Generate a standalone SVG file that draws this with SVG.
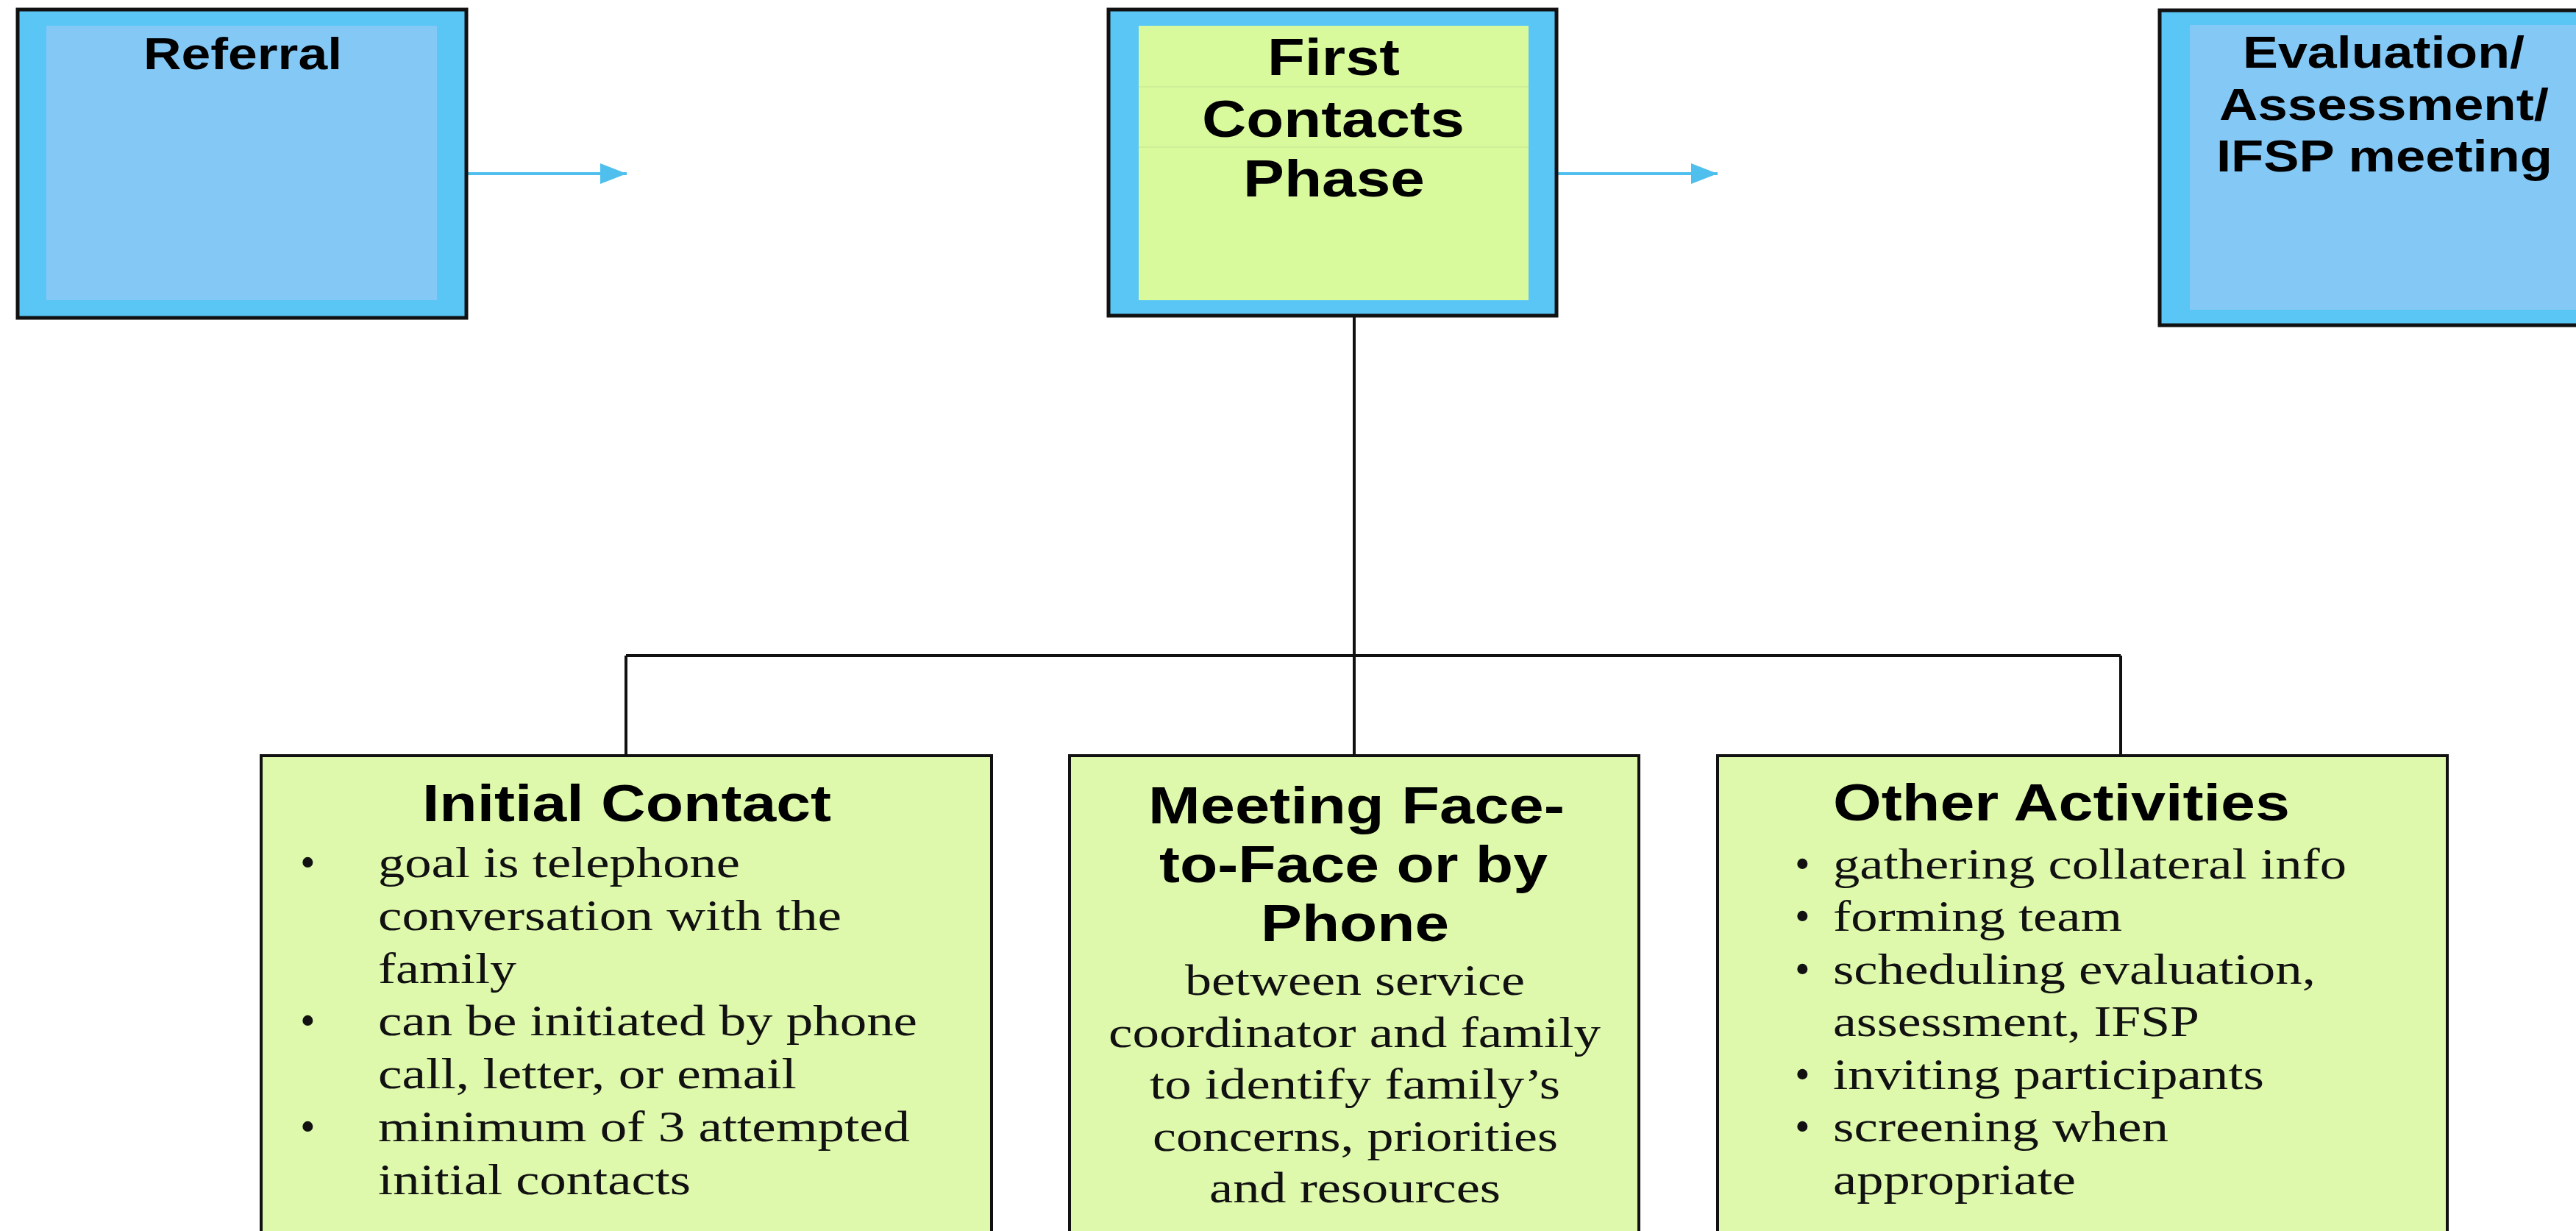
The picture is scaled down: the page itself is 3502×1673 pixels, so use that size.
<svg xmlns="http://www.w3.org/2000/svg" width="3502" height="1673" viewBox="0 0 3502 1673">
<defs>
<style>
.outer{fill:#59c6f6;stroke:#111;stroke-width:5}
.innerb{fill:#84c8f6}
.innerg{fill:#d9f99d}
.card{fill:#def8ac;stroke:#111;stroke-width:4}
.h{font-family:"Liberation Sans",Arial,sans-serif;font-weight:bold;fill:#000}
.t{font-family:"Liberation Serif","Times New Roman",serif;fill:#111;font-size:59px}
.conn{stroke:#111;stroke-width:4;fill:none}
.arr{stroke:#4fbfee;stroke-width:4;fill:none}
</style>
<marker id="ah" markerUnits="userSpaceOnUse" markerWidth="38" markerHeight="28" refX="36" refY="14" orient="auto">
<path d="M0,0 L36,14 L0,28 Z" fill="#4fbfee"/>
</marker>
</defs>
<rect width="3502" height="1673" fill="#ffffff"/>

<g id="connectors">
<line class="arr" x1="634" y1="236" x2="852" y2="236" marker-end="url(#ah)"/>
<line class="arr" x1="2116" y1="236" x2="2335" y2="236" marker-end="url(#ah)"/>
<line class="conn" x1="1841" y1="430" x2="1841" y2="1027"/>
<line class="conn" x1="851" y1="891" x2="2883" y2="891"/>
<line class="conn" x1="851" y1="891" x2="851" y2="1027"/>
<line class="conn" x1="2883" y1="891" x2="2883" y2="1027"/>
</g>

<g id="referral">
<rect class="outer" x="24" y="13" width="610" height="419"/>
<rect class="innerb" x="63" y="35" width="531" height="373"/>
<text class="h" font-size="61" x="195" y="94" textLength="270" lengthAdjust="spacingAndGlyphs">Referral</text>
</g>

<g id="first-contacts">
<rect class="outer" x="1507" y="13" width="609" height="416"/>
<rect class="innerg" x="1548" y="35" width="530" height="373"/>
<line x1="1548" y1="118" x2="2078" y2="118" stroke="#cfee97" stroke-width="2"/>
<line x1="1548" y1="200" x2="2078" y2="200" stroke="#cfee97" stroke-width="2"/>
<text class="h" font-size="70" x="1723" y="102" textLength="180" lengthAdjust="spacingAndGlyphs">First</text>
<text class="h" font-size="70" x="1634" y="186" textLength="357" lengthAdjust="spacingAndGlyphs">Contacts</text>
<text class="h" font-size="70" x="1690" y="267" textLength="247" lengthAdjust="spacingAndGlyphs">Phase</text>
</g>

<g id="evaluation">
<rect class="outer" x="2936" y="14" width="620" height="428"/>
<rect class="innerb" x="2977" y="34" width="560" height="387"/>
<text class="h" font-size="61" x="3049" y="92" textLength="383" lengthAdjust="spacingAndGlyphs">Evaluation/</text>
<text class="h" font-size="61" x="3017" y="163" textLength="448" lengthAdjust="spacingAndGlyphs">Assessment/</text>
<text class="h" font-size="61" x="3013" y="233" textLength="457" lengthAdjust="spacingAndGlyphs">IFSP meeting</text>
</g>

<g id="initial-contact">
<rect class="card" x="355" y="1027" width="993" height="700"/>
<text class="h" font-size="70" x="574" y="1116" textLength="556" lengthAdjust="spacingAndGlyphs">Initial Contact</text>
<text class="t" x="408" y="1192">•</text>
<text class="t" x="408" y="1407">•</text>
<text class="t" x="408" y="1551">•</text>
<text class="t" x="514" y="1192" textLength="492" lengthAdjust="spacingAndGlyphs">goal is telephone</text>
<text class="t" x="514" y="1264" textLength="630" lengthAdjust="spacingAndGlyphs">conversation with the</text>
<text class="t" x="514" y="1336" textLength="188" lengthAdjust="spacingAndGlyphs">family</text>
<text class="t" x="514" y="1407" textLength="733" lengthAdjust="spacingAndGlyphs">can be initiated by phone</text>
<text class="t" x="514" y="1479" textLength="569" lengthAdjust="spacingAndGlyphs">call, letter, or email</text>
<text class="t" x="514" y="1551" textLength="723" lengthAdjust="spacingAndGlyphs">minimum of 3 attempted</text>
<text class="t" x="514" y="1623" textLength="425" lengthAdjust="spacingAndGlyphs">initial contacts</text>
</g>

<g id="meeting">
<rect class="card" x="1454" y="1027" width="774" height="700"/>
<text class="h" font-size="70" x="1561" y="1119" textLength="566" lengthAdjust="spacingAndGlyphs">Meeting Face-</text>
<text class="h" font-size="70" x="1576" y="1199" textLength="528" lengthAdjust="spacingAndGlyphs">to-Face or by</text>
<text class="h" font-size="70" x="1714" y="1279" textLength="256" lengthAdjust="spacingAndGlyphs">Phone</text>
<text class="t" x="1611" y="1352" textLength="462" lengthAdjust="spacingAndGlyphs">between service</text>
<text class="t" x="1507" y="1423" textLength="669" lengthAdjust="spacingAndGlyphs">coordinator and family</text>
<text class="t" x="1563" y="1493" textLength="558" lengthAdjust="spacingAndGlyphs">to identify family’s</text>
<text class="t" x="1567" y="1564" textLength="551" lengthAdjust="spacingAndGlyphs">concerns, priorities</text>
<text class="t" x="1644" y="1634" textLength="396" lengthAdjust="spacingAndGlyphs">and resources</text>
</g>

<g id="other-activities">
<rect class="card" x="2335" y="1027" width="992" height="700"/>
<text class="h" font-size="70" x="2492" y="1115" textLength="621" lengthAdjust="spacingAndGlyphs">Other Activities</text>
<text class="t" x="2440" y="1194">•</text>
<text class="t" x="2440" y="1265">•</text>
<text class="t" x="2440" y="1337">•</text>
<text class="t" x="2440" y="1480">•</text>
<text class="t" x="2440" y="1551">•</text>
<text class="t" x="2492" y="1194" textLength="698" lengthAdjust="spacingAndGlyphs">gathering collateral info</text>
<text class="t" x="2492" y="1265" textLength="393" lengthAdjust="spacingAndGlyphs">forming team</text>
<text class="t" x="2492" y="1337" textLength="656" lengthAdjust="spacingAndGlyphs">scheduling evaluation,</text>
<text class="t" x="2492" y="1408" textLength="498" lengthAdjust="spacingAndGlyphs">assessment, IFSP</text>
<text class="t" x="2492" y="1480" textLength="586" lengthAdjust="spacingAndGlyphs">inviting participants</text>
<text class="t" x="2492" y="1551" textLength="456" lengthAdjust="spacingAndGlyphs">screening when</text>
<text class="t" x="2492" y="1623" textLength="330" lengthAdjust="spacingAndGlyphs">appropriate</text>
</g>
</svg>
